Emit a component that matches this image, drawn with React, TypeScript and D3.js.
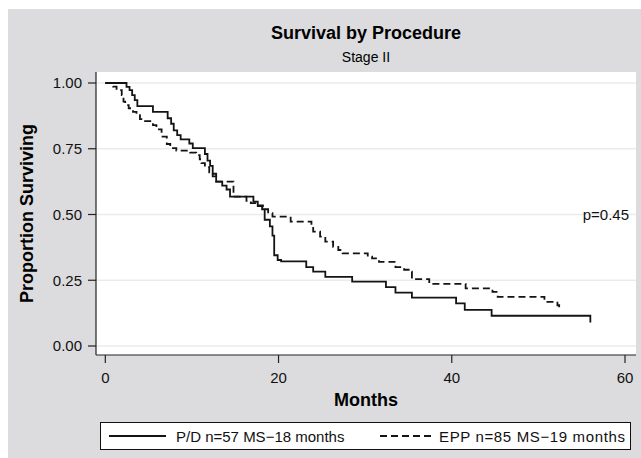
import React from "react";
import * as d3 from "d3";

const pdMonths = [0, 2.45, 2.8, 3.1, 3.4, 3.7, 5.5, 7.2, 7.6, 7.9, 8.3, 8.7, 9.7, 10.1, 11.5, 11.8, 12.1, 12.4, 12.8, 13.5, 14.0, 14.4, 17.1, 17.6, 18.1, 18.4, 19.0, 19.3, 19.5, 19.9, 20.3, 23.2, 24.0, 25.4, 28.5, 32.4, 33.5, 35.4, 40.5, 41.5, 44.6, 56.0];
const pdSurv = [1.0, 0.985, 0.973, 0.954, 0.935, 0.912, 0.89, 0.866, 0.845, 0.82, 0.802, 0.786, 0.77, 0.752, 0.73, 0.705, 0.685, 0.655, 0.625, 0.61, 0.595, 0.568, 0.549, 0.532, 0.52, 0.48, 0.455, 0.42, 0.345, 0.327, 0.322, 0.3, 0.283, 0.263, 0.245, 0.224, 0.203, 0.184, 0.162, 0.137, 0.115, 0.089];

const eppMonths = [0, 0.9, 1.3, 1.9, 2.1, 2.3, 2.7, 3.2, 3.6, 4.0, 4.4, 5.5, 5.9, 6.5, 7.1, 7.5, 8.2, 9.8, 10.5, 10.9, 11.1, 11.5, 12.0, 12.4, 12.8, 14.8, 16.3, 16.8, 17.5, 18.2, 18.8, 19.3, 21.4, 23.8, 24.0, 24.8, 25.4, 26.3, 26.9, 27.4, 30.3, 30.8, 31.6, 33.5, 34.5, 35.2, 35.4, 37.4, 41.6, 44.7, 45.3, 50.7, 52.2, 52.4, 52.5];
const eppSurv = [1.0, 0.986, 0.973, 0.954, 0.929, 0.916, 0.904, 0.89, 0.878, 0.863, 0.855, 0.84, 0.824, 0.796, 0.768, 0.752, 0.743, 0.735, 0.726, 0.71, 0.695, 0.68, 0.66, 0.645, 0.625, 0.568, 0.552, 0.543, 0.535, 0.52, 0.505, 0.492, 0.473, 0.454, 0.435, 0.416, 0.397, 0.377, 0.365, 0.352, 0.34, 0.333, 0.32, 0.3, 0.29, 0.283, 0.254, 0.236, 0.219, 0.206, 0.187, 0.168, 0.155, 0.143, 0.143];

const xTicks = [0, 20, 40, 60];
const yTicks = [0, 0.25, 0.5, 0.75, 1.0];
const yTickLabels = ["0.00", "0.25", "0.50", "0.75", "1.00"];
const legendLabels = ["P/D n=57 MS\u221218 months", "EPP n=85 MS\u221219 months"];
const title = "Survival by Procedure";
const subtitle = "Stage II";
const pValue = "p=0.45";

const FONT = "'Liberation Sans', Arial, Helvetica, sans-serif";

export default function App() {
  const W = 641, H = 458;
  const plotL = 96, plotR = 636, plotT = 72, plotB = 355;
  const x = d3.scaleLinear().domain([0, 60]).range([105.3, 625]);
  const y = d3.scaleLinear().domain([0, 1]).range([346, 83]);
  const line = d3
    .line<[number, number]>()
    .x((d) => x(d[0]))
    .y((d) => y(d[1]))
    .curve(d3.curveStepAfter);
  const pd: [number, number][] = pdMonths.map((m, i) => [m, pdSurv[i]]);
  const epp: [number, number][] = eppMonths.map((m, i) => [m, eppSurv[i]]);
  const ink = "#141414";
  return (
    <svg
      width={W}
      height={H}
      style={{ position: "absolute", left: 0, top: 0, fontFamily: FONT }}
    >
      <rect x={8} y={9} width={W - 8} height={H - 9} fill="#dcdcde" />
      <rect x={plotL} y={plotT} width={plotR - plotL} height={plotB - plotT} fill="#ffffff" />
      {yTicks.map((t) => (
        <line key={"g" + t} x1={plotL} x2={plotR} y1={y(t)} y2={y(t)} stroke="#ebebeb" strokeWidth={1.6} />
      ))}
      <text x={366} y={39} textAnchor="middle" fontSize={18} fontWeight="bold" fill="#000">{title}</text>
      <text x={366} y={62} textAnchor="middle" fontSize={14} fill="#000">{subtitle}</text>
      <line x1={plotL} x2={plotL} y1={plotT} y2={plotB} stroke="#222" strokeWidth={1.2} />
      <line x1={plotL} x2={plotR} y1={plotB} y2={plotB} stroke="#222" strokeWidth={1.2} />
      {yTicks.map((t, i) => (
        <g key={"y" + t}>
          <line x1={plotL - 8} x2={plotL} y1={y(t)} y2={y(t)} stroke="#222" strokeWidth={1.2} />
          <text x={plotL - 14} y={y(t) + 5.3} textAnchor="end" fontSize={15} fill="#111">{yTickLabels[i]}</text>
        </g>
      ))}
      {xTicks.map((t) => (
        <g key={"x" + t}>
          <line x1={x(t)} x2={x(t)} y1={plotB} y2={plotB + 8} stroke="#222" strokeWidth={1.2} />
          <text x={x(t)} y={383} textAnchor="middle" fontSize={15} fill="#111">{t}</text>
        </g>
      ))}
      <text x={366} y={406} textAnchor="middle" fontSize={18} fontWeight="bold" fill="#000">Months</text>
      <text
        transform={`translate(33,${(plotT + plotB) / 2}) rotate(-90)`}
        textAnchor="middle"
        fontSize={18}
        fontWeight="bold"
        fill="#000"
      >
        Proportion Surviving
      </text>
      <path d={line(pd) || ""} fill="none" stroke={ink} strokeWidth={1.8} />
      <path d={line(epp) || ""} fill="none" stroke={ink} strokeWidth={1.8} strokeDasharray="7,4" />
      <text x={629} y={y(0.5) + 5} textAnchor="end" fontSize={15} fill="#111">{pValue}</text>
      <rect x={100.5} y={422.5} width={530} height={27} fill="#fff" stroke="#111" strokeWidth={1} />
      <line x1={109} x2={166} y1={436} y2={436} stroke={ink} strokeWidth={1.8} />
      <text x={176} y={441.5} fontSize={15} fill="#111">{legendLabels[0]}</text>
      <line x1={380} x2={432} y1={436} y2={436} stroke={ink} strokeWidth={1.8} strokeDasharray="7,4" />
      <text x={439} y={441.5} fontSize={15} fill="#111" textLength={186} lengthAdjust="spacing">{legendLabels[1]}</text>
    </svg>
  );
}
